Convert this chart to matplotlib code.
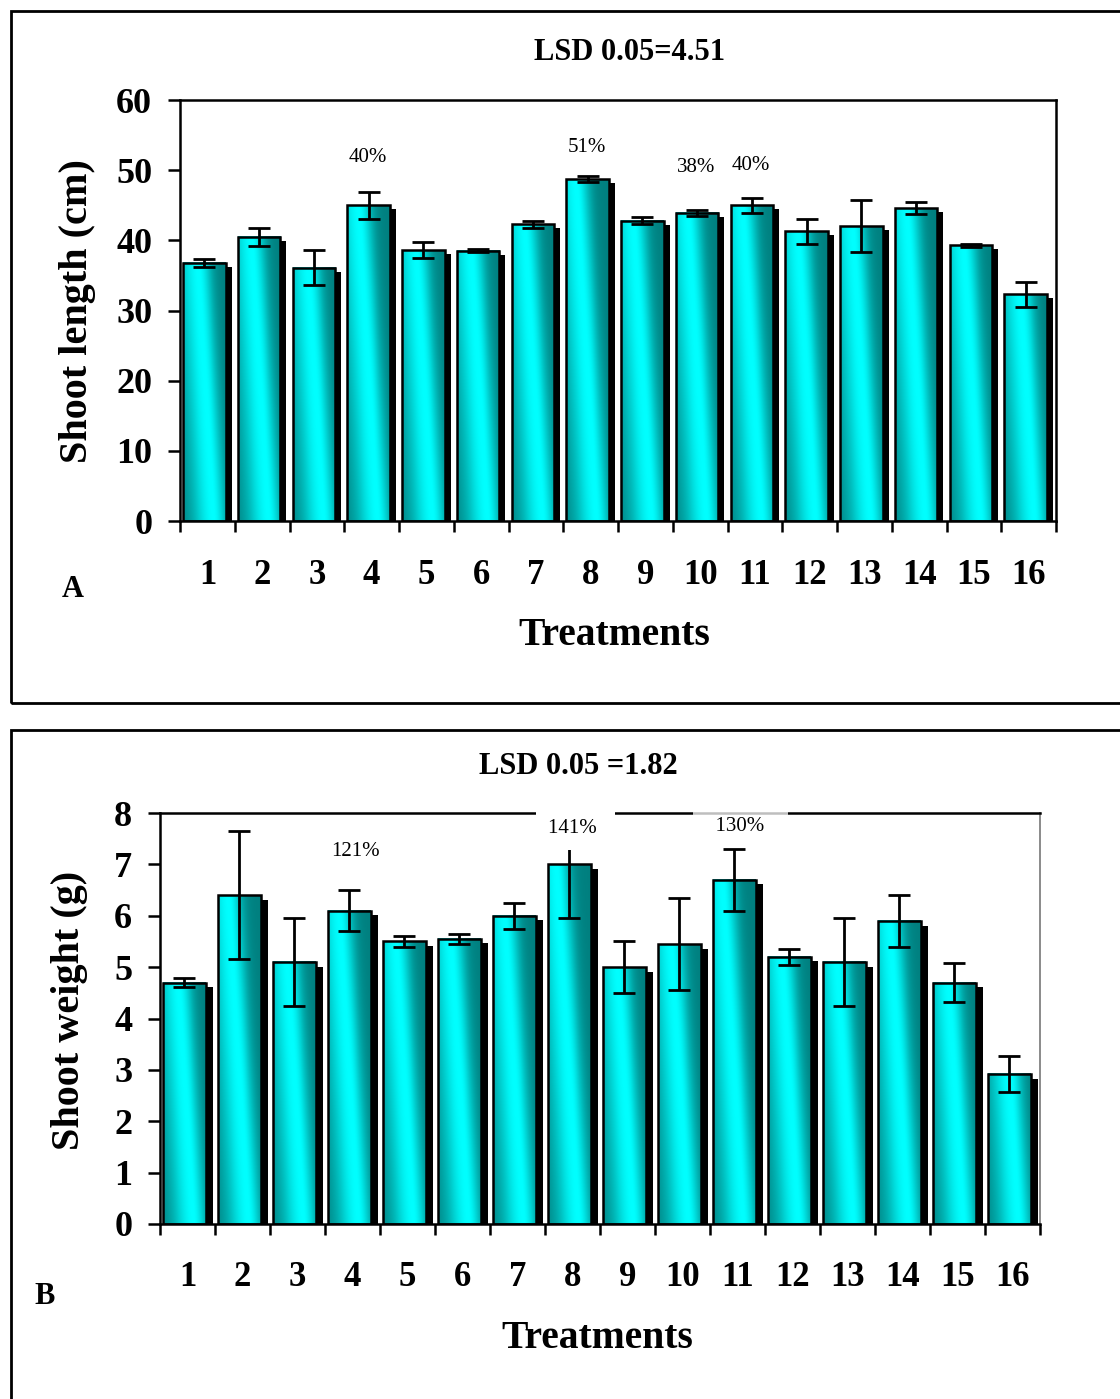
import numpy as np
import matplotlib.pyplot as plt
from matplotlib.patches import Rectangle

plt.rcParams['font.family'] = ['Liberation Serif', 'DejaVu Serif']

treatments = [str(i) for i in range(1, 17)]

# panel A - shoot length (cm)
length_mean = [36.8, 40.5, 36.1, 45.0, 38.6, 38.5, 42.3, 48.7,
               42.8, 43.9, 45.0, 41.3, 42.0, 44.6, 39.3, 32.3]
length_err = [0.6, 1.3, 2.5, 1.9, 1.1, 0.2, 0.5, 0.4,
              0.5, 0.4, 1.1, 1.8, 3.7, 0.8, 0.2, 1.8]
length_pct = {4: '40%', 8: '51%', 10: '38%', 11: '40%'}
length_pct_y = {4: 51.8, 8: 53.3, 10: 50.4, 11: 50.6}

# panel B - shoot weight (g)
weight_mean = [4.7, 6.4, 5.1, 6.1, 5.5, 5.55, 6.0, 7.0,
               5.0, 5.45, 6.7, 5.2, 5.1, 5.9, 4.7, 2.92]
weight_err = [0.08, 1.25, 0.85, 0.4, 0.1, 0.1, 0.25, 1.05,
              0.5, 0.9, 0.6, 0.15, 0.85, 0.5, 0.38, 0.35]
weight_pct = {4: '121%', 8: '141%', 11: '130%'}
weight_pct_y = {4: 7.26, 8: 7.70, 11: 7.74}

W, H = 1120, 1399
fig = plt.figure(figsize=(W / 100, H / 100), dpi=100)


def fx(px):
    return px / W


def fy(py):
    return 1 - py / H


def bar_gradient(h, ymax, ny=90, nx=40):
    yy = np.linspace(0, h, ny)[:, None]
    xx = np.linspace(0, 1, nx)[None, :]
    peak = 0.72 - 0.6 * yy / ymax
    w = np.where(xx < peak, 0.5, 0.3)
    t = np.exp(-((xx - peak) / w) ** 2)
    dark = np.array([0.0, 0.5, 0.5])
    light = np.array([0.0, 1.0, 1.0])
    return dark + t[..., None] * (light - dark)


def draw_panel(ax, means, errs, ymax, ystep, dx_sh, dy_sh):
    bw = 0.78
    for i, (m, e) in enumerate(zip(means, errs)):
        x0 = i + 1 - 0.445
        # shadow
        ax.add_patch(Rectangle((x0 + dx_sh, 0), bw, m - dy_sh,
                               facecolor='black', edgecolor='none', zorder=1))
        ax.imshow(bar_gradient(m, ymax), extent=[x0, x0 + bw, 0, m],
                  origin='lower', aspect='auto', zorder=2)
        ax.add_patch(Rectangle((x0, 0), bw, m, fill=False,
                               edgecolor='black', lw=1.8, zorder=3))
        ax.errorbar(x0 + bw / 2, m, yerr=e, fmt='none', ecolor='black',
                    elinewidth=2, capsize=8, capthick=2, zorder=4)
    ax.set_xlim(0.5, 16.5)
    ax.set_ylim(0, ymax)
    ax.set_yticks(np.arange(0, ymax + ystep / 2, ystep))
    ax.set_xticks(np.arange(0.5, 17, 1))
    ax.set_xticklabels([])
    ax.set_xticks(np.arange(1, 17), minor=True)
    ax.set_xticklabels(treatments, minor=True)
    ax.tick_params(axis='x', which='major', direction='out', length=8, width=1.8)
    ax.tick_params(axis='x', which='minor', length=0, pad=27, labelsize=25)
    ax.tick_params(axis='y', direction='out', length=9, width=1.8, pad=11,
                   labelsize=26)
    for lab in ax.get_xticklabels(minor=True) + ax.get_yticklabels():
        lab.set_fontweight('bold')
    for s in ax.spines.values():
        s.set_linewidth(1.8)


# ---- panel A ----
axA = fig.add_axes([fx(180), fy(521), fx(1056 - 180), (521 - 100) / H])
draw_panel(axA, length_mean, length_err, 60, 10, 0.11, 0.57)
for k, lab in length_pct.items():
    axA.text(k - 0.07, length_pct_y[k], lab, ha='center', va='center',
             fontsize=15, zorder=5)

fig.text(fx(630), fy(53), 'LSD 0.05=4.51', ha='center', va='center',
         fontsize=22, fontweight='bold')
fig.text(fx(78), fy(311), 'Shoot length (cm)', rotation=90, ha='center',
         va='center', fontsize=29, fontweight='bold')
fig.text(fx(614), fy(636), 'Treatments', ha='center', va='center',
         fontsize=28.5, fontweight='bold')
fig.text(fx(73), fy(590), 'A', ha='center', va='center', fontsize=22,
         fontweight='bold')

# ---- panel B ----
axB = fig.add_axes([fx(160), fy(1224), fx(1040 - 160), (1224 - 813) / H])
draw_panel(axB, weight_mean, weight_err, 8, 1, 0.12, 0.09)
axB.spines['right'].set_color('#777777')
axB.spines['right'].set_linewidth(1.2)
for k, lab in weight_pct.items():
    if k == 11:
        box = dict(boxstyle='square,pad=0.6', facecolor='white',
                   edgecolor='none', alpha=0.75)
        txt = '  ' + lab + '  '
    elif k == 8:
        box = dict(boxstyle='square,pad=0.6', facecolor='white', edgecolor='none')
        txt = lab + ' '
    else:
        box = None
        txt = lab
    axB.text(k + 0.05 if k != 8 else k + 0.05, weight_pct_y[k], txt,
             ha='center', va='center', fontsize=15, zorder=6, bbox=box,
             clip_on=False)

fig.text(fx(578), fy(766), 'LSD 0.05 =1.82', ha='center', va='center',
         fontsize=22, fontweight='bold')
fig.text(fx(70), fy(1010), 'Shoot weight (g)', rotation=90, ha='center',
         va='center', fontsize=29, fontweight='bold')
fig.text(fx(597), fy(1338), 'Treatments', ha='center', va='center',
         fontsize=28.5, fontweight='bold')
fig.text(fx(45), fy(1297), 'B', ha='center', va='center', fontsize=22,
         fontweight='bold')

# outer frames
fig.patches.append(Rectangle((fx(11), fy(703)), fx(1130 - 11), (703 - 11) / H,
                             transform=fig.transFigure, fill=False,
                             edgecolor='black', lw=2))
fig.patches.append(Rectangle((fx(11), fy(1410)), fx(1130 - 11), (1410 - 730) / H,
                             transform=fig.transFigure, fill=False,
                             edgecolor='black', lw=2))

fig.savefig('out.png', dpi=100)
